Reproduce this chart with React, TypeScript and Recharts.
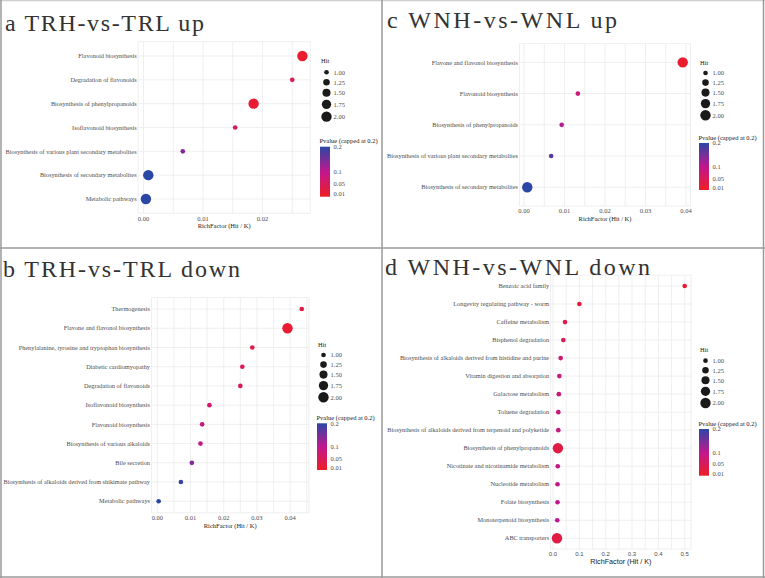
import { ScatterChart, Scatter, XAxis, YAxis, ZAxis, CartesianGrid, Cell } from 'recharts';

const SERIF = '"Liberation Serif", "Times New Roman", serif';
const SANS = '"Liberation Sans", Arial, sans-serif';
const TEXT = '#4D4D4D';
const GRID = '#EBEBEB';

// a: TRH-vs-TRL up (listed top to bottom)
const trUpTerms = [
  'Flavonoid biosynthesis',
  'Degradation of flavonoids',
  'Biosynthesis of phenylpropanoids',
  'Isoflavonoid biosynthesis',
  'Biosynthesis of various plant secondary metabolites',
  'Biosynthesis of secondary metabolites',
  'Metabolic pathways',
];
const trUpRich = [0.0267, 0.025, 0.0185, 0.0154, 0.0066, 0.0008, 0.0004];
const trUpHit = [2, 1, 2, 1, 1, 2, 2];
const trUpP = [0.01, 0.04, 0.015, 0.06, 0.14, 0.2, 0.2];

// c: WNH-vs-WNL up
const wnUpTerms = [
  'Flavone and flavonol biosynthesis',
  'Flavonoid biosynthesis',
  'Biosynthesis of phenylpropanoids',
  'Biosynthesis of various plant secondary metabolites',
  'Biosynthesis of secondary metabolites',
];
const wnUpRich = [0.0392, 0.0133, 0.0093, 0.0067, 0.0008];
const wnUpHit = [2, 1, 1, 1, 2];
const wnUpP = [0.01, 0.08, 0.11, 0.17, 0.2];

// b: TRH-vs-TRL down
const trDownTerms = [
  'Thermogenesis',
  'Flavone and flavonol biosynthesis',
  'Phenylalanine, tyrosine and tryptophan biosynthesis',
  'Diabetic cardiomyopathy',
  'Degradation of flavonoids',
  'Isoflavonoid biosynthesis',
  'Flavonoid biosynthesis',
  'Biosynthesis of various alkaloids',
  'Bile secretion',
  'Biosynthesis of alkaloids derived from shikimate pathway',
  'Metabolic pathways',
];
const trDownRich = [0.0435, 0.0392, 0.0286, 0.0256, 0.025, 0.0157, 0.0135, 0.013, 0.0104, 0.0071, 0.0004];
const trDownHit = [1, 2, 1, 1, 1, 1, 1, 1, 1, 1, 1];
const trDownP = [0.03, 0.01, 0.035, 0.045, 0.05, 0.07, 0.085, 0.09, 0.14, 0.19, 0.2];

// d: WNH-vs-WNL down
const wnDownTerms = [
  'Benzoic acid family',
  'Longevity regulating pathway - worm',
  'Caffeine metabolism',
  'Bisphenol degradation',
  'Biosynthesis of alkaloids derived from histidine and purine',
  'Vitamin digestion and absorption',
  'Galactose metabolism',
  'Toluene degradation',
  'Biosynthesis of alkaloids derived from terpenoid and polyketide',
  'Biosynthesis of phenylpropanoids',
  'Nicotinate and nicotinamide metabolism',
  'Nucleotide metabolism',
  'Folate biosynthesis',
  'Monoterpenoid biosynthesis',
  'ABC transporters',
];
const wnDownRich = [0.5, 0.1, 0.0455, 0.039, 0.029, 0.024, 0.022, 0.02, 0.02, 0.0185, 0.018, 0.017, 0.017, 0.016, 0.015];
const wnDownHit = [1, 1, 1, 1, 1, 1, 1, 1, 1, 2, 1, 1, 1, 1, 2];
const wnDownP = [0.015, 0.03, 0.04, 0.045, 0.07, 0.075, 0.08, 0.08, 0.085, 0.03, 0.09, 0.095, 0.1, 0.1, 0.03];

const HIT_LEVELS = [1, 1.25, 1.5, 1.75, 2];
const HIT_ROWS = [10.7, 20.3, 30.3, 41.3, 53];
const P_LABELS = [0.2, 0.1, 0.05, 0.01];
const P_MAX = 0.2;
const P_STOPS = ['#EE1E24', '#C0178F', '#2B47A5'];
const SIZE_RANGE = [17, 85];

function hexToRgb(h: string) {
  return [1, 3, 5].map((i) => parseInt(h.slice(i, i + 2), 16));
}

function pColor(p: number) {
  const t = Math.min(1, Math.max(0, p / P_MAX));
  const seg = t < 0.5 ? 0 : 1;
  const lt = t < 0.5 ? t * 2 : (t - 0.5) * 2;
  const a = hexToRgb(P_STOPS[seg]);
  const b = hexToRgb(P_STOPS[seg + 1]);
  const c = a.map((v, i) => Math.round(v + (b[i] - v) * lt));
  return `rgb(${c[0]},${c[1]},${c[2]})`;
}

function hitRadius(v: number) {
  const area = SIZE_RANGE[0] + (SIZE_RANGE[1] - SIZE_RANGE[0]) * (v - 1);
  return Math.sqrt(area / Math.PI);
}

const PANELS = [
  {
    x: 0, y: 0, w: 382, h: 248,
    title: 'a TRH-vs-TRL up', titleX: 5, titleY: 31, titleLen: 199,
    terms: trUpTerms, rich: trUpRich, hit: trUpHit, p: trUpP,
    major: [0, 0.01, 0.02], minor: [0.005, 0.015, 0.025], digits: 2,
    plot: { left: 138.1, right: 310.2, top: 41.7, bottom: 213.3 },
    axisFont: SERIF, tickSize: 6.5, axisTitleSize: 6.5,
    legend: { left: 320, hitY: 61, hitScale: 1.05, pY: 140.7, barTop: 146.7, barH: 50 },
  },
  {
    x: 382, y: 0, w: 382, h: 248,
    title: 'c WNH-vs-WNL up', titleX: 5, titleY: 28.3, titleLen: 230,
    terms: wnUpTerms, rich: wnUpRich, hit: wnUpHit, p: wnUpP,
    major: [0, 0.01, 0.02, 0.03, 0.04], minor: [0.005, 0.015, 0.025, 0.035], digits: 2,
    plot: { left: 137.5, right: 308.5, top: 43.6, bottom: 206 },
    axisFont: SERIF, tickSize: 6.5, axisTitleSize: 6.5,
    legend: { left: 317, hitY: 62.3, hitScale: 1, pY: 137.3, barTop: 143, barH: 47 },
  },
  {
    x: 0, y: 248, w: 382, h: 330,
    title: 'b TRH-vs-TRL down', titleX: 3, titleY: 28.7, titleLen: 237,
    terms: trDownTerms, rich: trDownRich, hit: trDownHit, p: trDownP,
    major: [0, 0.01, 0.02, 0.03, 0.04], minor: [0.005, 0.015, 0.025, 0.035, 0.045], digits: 2,
    plot: { left: 151.5, right: 308.9, top: 49.5, bottom: 264.8 },
    axisFont: SERIF, tickSize: 6.5, axisTitleSize: 6.5,
    legend: { left: 317, hitY: 96.3, hitScale: 1, pY: 169.7, barTop: 175.3, barH: 46.7 },
  },
  {
    x: 382, y: 248, w: 382, h: 330,
    title: 'd WNH-vs-WNL down', titleX: 3, titleY: 27, titleLen: 265,
    terms: wnDownTerms, rich: wnDownRich, hit: wnDownHit, p: wnDownP,
    major: [0, 0.1, 0.2, 0.3, 0.4, 0.5], minor: [0.05, 0.15, 0.25, 0.35, 0.45], digits: 1,
    plot: { left: 168.6, right: 309.1, top: 27.2, bottom: 301.1 },
    axisFont: SANS, tickSize: 6, axisTitleSize: 7.2,
    legend: { left: 317, hitY: 102, hitScale: 1, pY: 175.3, barTop: 181, barH: 46.7 },
  },
];

type Spec = (typeof PANELS)[number];

function TermTick(props: any) {
  const { x, y, payload, terms } = props;
  const label = terms[terms.length - 1 - payload.value];
  return (
    <text x={x} y={y} dy="0.35em" textAnchor="end" fontSize={6.3} fill={TEXT} fontFamily={SERIF}>
      {label}
    </text>
  );
}

function PanelLegend({ spec, gid }: { spec: Spec; gid: string }) {
  const { left, hitY, hitScale, pY, barTop, barH } = spec.legend;
  const barBottom = barTop + barH;
  return (
    <g fontFamily={SERIF} fontSize={6.5}>
      <text x={left + 1} y={hitY} dy="0.35em" fill="#1A1A1A">Hit</text>
      {HIT_LEVELS.map((v, i) => (
        <g key={v}>
          <circle cx={left + 6.5} cy={hitY + HIT_ROWS[i] * hitScale} r={hitRadius(v)} fill="#1A1A1A" />
          <text x={left + 13.5} y={hitY + HIT_ROWS[i] * hitScale} dy="0.35em" fill={TEXT}>
            {v.toFixed(2)}
          </text>
        </g>
      ))}
      <text x={left - 0.5} y={pY} dy="0.35em" fill="#1A1A1A">Pvalue (capped at 0.2)</text>
      <defs>
        <linearGradient id={gid} x1="0" y1="1" x2="0" y2="0">
          {P_STOPS.map((c, i) => (
            <stop key={c} offset={i / (P_STOPS.length - 1)} stopColor={c} />
          ))}
        </linearGradient>
      </defs>
      <rect x={left} y={barTop} width={10} height={barH} fill={`url(#${gid})`} />
      {P_LABELS.map((v) => (
        <text key={v} x={left + 13.5} y={barBottom - (v / P_MAX) * barH} dy="0.35em" fill={TEXT}>
          {String(v)}
        </text>
      ))}
    </g>
  );
}

function Panel({ spec, idx }: { spec: Spec; idx: number }) {
  const n = spec.terms.length;
  const rows = spec.terms.map((term, i) => ({
    term,
    rich: spec.rich[i],
    hit: spec.hit[i],
    p: spec.p[i],
    pos: n - 1 - i,
  }));
  const lo = Math.min(...spec.rich);
  const hi = Math.max(...spec.rich);
  const pad = (hi - lo) * 0.05;
  const xTicks = [...spec.major, ...spec.minor].sort((a, b) => a - b);
  const yTicks = rows.map((r) => r.pos).sort((a, b) => a - b);
  const XH = 16;

  return (
    <div style={{ position: 'absolute', left: spec.x, top: spec.y, width: spec.w, height: spec.h }}>
      <ScatterChart
        width={spec.w}
        height={spec.h}
        margin={{
          top: spec.plot.top,
          right: spec.w - spec.plot.right,
          bottom: spec.h - spec.plot.bottom - XH,
          left: 0,
        }}
      >
        <CartesianGrid stroke={GRID} strokeWidth={0.8} />
        <XAxis
          type="number"
          dataKey="rich"
          domain={[lo - pad, hi + pad]}
          ticks={xTicks}
          interval={0}
          tickFormatter={(v: number) => (spec.major.includes(v) ? v.toFixed(spec.digits) : '')}
          axisLine={false}
          tickLine={false}
          tickSize={0}
          tickMargin={2.6}
          height={XH}
          tick={{ fontSize: spec.tickSize, fill: TEXT, fontFamily: spec.axisFont }}
          label={{
            value: 'RichFactor (Hit / K)',
            position: 'insideBottom',
            offset: 1,
            fontSize: spec.axisTitleSize,
            fill: '#1A1A1A',
            fontFamily: spec.axisFont,
          }}
        />
        <YAxis
          type="number"
          dataKey="pos"
          domain={[-0.6, n - 0.4]}
          ticks={yTicks}
          interval={0}
          width={spec.plot.left}
          axisLine={false}
          tickLine={false}
          tickSize={0}
          tickMargin={1.5}
          tick={(props: any) => <TermTick {...props} terms={spec.terms} />}
        />
        <ZAxis type="number" dataKey="hit" domain={[1, 2]} range={SIZE_RANGE} />
        <Scatter data={rows} isAnimationActive={false}>
          {rows.map((r) => (
            <Cell key={r.term} fill={pColor(r.p)} />
          ))}
        </Scatter>
      </ScatterChart>
      <svg
        width={spec.w}
        height={spec.h}
        style={{ position: 'absolute', left: 0, top: 0, pointerEvents: 'none' }}
      >
        <text
          x={spec.titleX}
          y={spec.titleY}
          fontSize={24}
          fontFamily={SERIF}
          fill="#333333"
          textLength={spec.titleLen}
          lengthAdjust="spacing"
        >
          {spec.title}
        </text>
        <PanelLegend spec={spec} gid={`pgrad${idx}`} />
      </svg>
    </div>
  );
}

export default function App() {
  return (
    <div
      style={{
        position: 'absolute',
        left: 0,
        top: 0,
        width: 765,
        height: 578,
        background: '#FFFFFF',
        overflow: 'hidden',
      }}
    >
      {PANELS.map((s, i) => (
        <Panel key={s.title} spec={s} idx={i} />
      ))}
      <svg width={765} height={578} style={{ position: 'absolute', left: 0, top: 0, pointerEvents: 'none' }}>
        <g stroke="#9A9A9A" strokeWidth={1.5} fill="none">
          <line x1={0} y1={0.5} x2={765} y2={0.5} stroke="#CFCFCF" />
          <line x1={1} y1={0} x2={1} y2={578} />
          <line x1={763.5} y1={0} x2={763.5} y2={578} />
          <line x1={0} y1={577} x2={765} y2={577} />
          <line x1={382} y1={0} x2={382} y2={578} />
          <line x1={0} y1={248} x2={765} y2={248} />
        </g>
      </svg>
    </div>
  );
}
